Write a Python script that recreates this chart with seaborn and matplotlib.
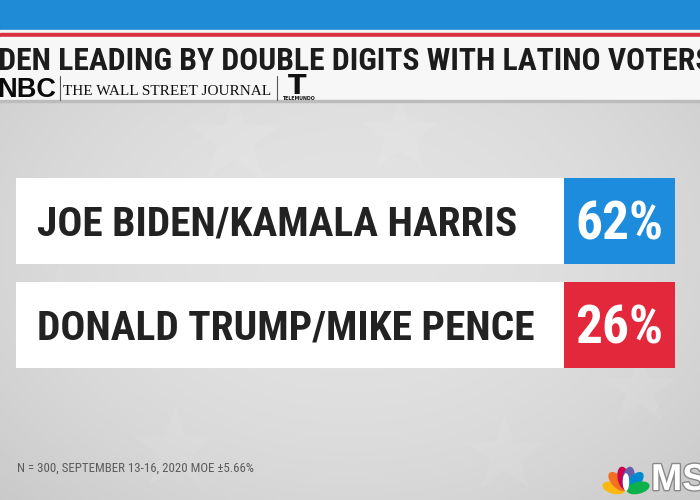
import os
import numpy as np
import pandas as pd
import matplotlib
matplotlib.use("Agg")
import matplotlib.pyplot as plt
import seaborn as sns
from matplotlib import font_manager
from matplotlib.font_manager import FontProperties
from matplotlib.textpath import TextPath
from matplotlib.patches import Rectangle, Ellipse
import matplotlib.patheffects as pe

# ---------------- data ----------------
candidates = ["JOE BIDEN/KAMALA HARRIS", "DONALD TRUMP/MIKE PENCE"]
shares = [62, 26]
box_colors = ["#1e8cdc", "#e3283b"]
title = "BIDEN LEADING BY DOUBLE DIGITS WITH LATINO VOTERS"
title_visible = "DEN LEADING BY DOUBLE DIGITS WITH LATINO VOTERS"
footnote = "N = 300, SEPTEMBER 13-16, 2020 MOE \u00b15.66%"

# ---------------- fonts ----------------
sns.set_theme(style="white")
plt.rcParams["font.family"] = ["DejaVu Sans"]

_files = [f.fname for f in font_manager.fontManager.ttflist]


def pick(patterns, fallback_weight):
    for pat in patterns:
        for fn in _files:
            if pat in os.path.basename(fn).lower():
                return FontProperties(fname=fn)
    return FontProperties(family="DejaVu Sans", weight=fallback_weight)


BOLD = pick(["notosans-extracondensedbold.", "liberationsansnarrow-bold.",
             "robotocondensed-bold.", "notosans-condensedbold.",
             "opensans-condensedbold.", "opensans_condensed-bold.",
             "dejavusanscondensed-bold."], "bold")
REG = pick(["notosans-extracondensedmedium.", "notosans-extracondensed.",
            "liberationsansnarrow-regular.", "robotocondensed-regular.",
            "notosans-condensedmedium.", "notosans-condensed.",
            "dejavusanscondensed."], "normal")

PX = 100 / 72.0


def fit_size(text, prop, target_w, target_cap):
    p = prop.copy()
    p.set_size(10)
    w = TextPath((0, 0), text, prop=p).get_extents().width * PX
    c = TextPath((0, 0), "H", prop=p).get_extents().height * PX
    return min(10 * target_w / w, 10 * target_cap / c)


def cap_px(prop, size):
    p = prop.copy()
    p.set_size(size)
    return TextPath((0, 0), "H", prop=p).get_extents().height * PX


def with_size(prop, size):
    p = prop.copy()
    p.set_size(size)
    return p


W, H = 700, 500
fig = plt.figure(figsize=(7, 5), dpi=100)

# ---------------- background layer (pixel coordinates) ----------------
bg = fig.add_axes([0, 0, 1, 1], zorder=0)
yy, xx = np.mgrid[0:H, 0:W]
r = np.sqrt(((xx - 350) / 450) ** 2 + ((yy - 250) / 330) ** 2)
val = np.clip(0.89 - 0.085 * r ** 2, 0, 1)
bg.imshow(np.dstack([val, val, val]), extent=(0, W, H, 0), aspect="auto", zorder=0)

bg.scatter([235, 400, 60, 175, 505, 640], [140, 135, 300, 450, 455, 390],
           marker="*", s=[5000, 3500, 3000, 4000, 3500, 3000], color="white",
           alpha=0.07, linewidths=0, zorder=1)

# header bands
bg.add_patch(Rectangle((0, 0), W, 29.5, color="#1f8ad6", zorder=2))
bg.add_patch(Rectangle((0, 29.5), W, 3, color="#f4f4f4", zorder=2))
bg.add_patch(Rectangle((0, 32.5), W, 4.8, color="#d9313f", zorder=2))
bg.add_patch(Rectangle((0, 37.3), W, 63, color="#f7f7f7", zorder=2))
bg.add_patch(Rectangle((0, 100), W, 1.5, color="#bcbcbc", zorder=2))

t_size = fit_size(title_visible, BOLD, 712, 28)
bg.text(712, 70, title, ha="right", va="baseline", fontproperties=with_size(BOLD, t_size),
        color="#1c1c1c", zorder=3)

bg.text(-3, 97, "NBC", ha="left", va="baseline", fontsize=19.5,
        fontweight="bold", family=["Liberation Sans", "DejaVu Sans"], color="#0a0a0a", zorder=3)
bg.plot([60, 60], [76, 100], color="#555555", lw=0.8, zorder=3)
bg.text(63, 95, "THE WALL STREET JOURNAL", ha="left", va="baseline", fontsize=11,
        family=["Liberation Serif", "DejaVu Serif"], color="#111111", zorder=3)
bg.plot([277, 277], [76, 100], color="#555555", lw=0.8, zorder=3)
bg.text(297, 93.5, "T", ha="center", va="baseline", fontsize=19.5, fontweight="heavy",
        family=["DejaVu Sans"], color="#111111", zorder=3)
bg.text(298, 100, "TELEMUNDO", ha="center", va="baseline", fontsize=3.4,
        fontweight="bold", family=["DejaVu Sans"], color="#111111", zorder=3)

# footnote
f_size = fit_size(footnote, REG, 236, 11)
bg.text(17, 472, footnote, ha="left", va="baseline",
        fontproperties=with_size(REG, f_size), color="#5b5b5b", zorder=3)

# MSNBC logo
base_x, base_y = 626, 491
feather_cols = ["#fcb711", "#f37021", "#cc004c", "#6460aa", "#0089d0", "#0db14b"]
angles = [166, 133, 101, 79, 47, 14]
for ang, col in zip(angles, feather_cols):
    t = np.deg2rad(ang)
    cx, cy = base_x + 12.5 * np.cos(t), base_y - 13 * np.sin(t)
    bg.add_patch(Ellipse((cx, cy), 22, 10.5, angle=-ang, color=col, zorder=3))
bg.add_patch(Ellipse((base_x, base_y - 9), 5, 16, color="white", zorder=4))
bg.text(651, 490, "MS", ha="left", va="baseline", fontsize=27, fontweight="bold",
        family=["Liberation Sans", "DejaVu Sans"], color="white", zorder=4,
        path_effects=[pe.withStroke(linewidth=2, foreground="#8a8a8a")])

bg.set_xlim(0, W)
bg.set_ylim(H, 0)
bg.axis("off")

# ---------------- chart ----------------
ROW_PX = 104.0                      # distance between row centres (px)
AX_TOP, AX_BOT, AX_L, AX_R = 178, 368, 16, 675
BAR_W = 86 / ROW_PX
LABEL_FRAC = (564 - AX_L) / (AX_R - AX_L)
ax = fig.add_axes([AX_L / W, 1 - AX_BOT / H, (AX_R - AX_L) / W, (AX_BOT - AX_TOP) / H],
                  zorder=2)
ax.patch.set_alpha(0)

df = pd.DataFrame({"candidate": candidates, "share": shares})
df["panel"] = 1.0
df["label_panel"] = LABEL_FRAC

sns.barplot(data=df, y="candidate", x="panel", hue="candidate", palette=box_colors,
            width=BAR_W, orient="h", errorbar=None, legend=False, saturation=1,
            linewidth=0, ax=ax)
sns.barplot(data=df, y="candidate", x="label_panel", color="white",
            width=BAR_W, orient="h", errorbar=None, saturation=1, linewidth=0, ax=ax)

pad = ((AX_BOT - AX_TOP) / ROW_PX - (len(candidates) - 1)) / 2
ax.set_xlim(0, 1)
ax.set_ylim(len(candidates) - 1 + pad, -pad)
ax.axis("off")

LABEL_X = (37 - AX_L) / (AX_R - AX_L)
VALUE_X = ((564 + 675) / 2 - AX_L) / (AX_R - AX_L)
l_size = min(fit_size(c, BOLD, 494, 35) for c in candidates)
v_size = min(fit_size(f"{s}%", BOLD, 84, 47) for s in shares)
l_cap = cap_px(BOLD, l_size)
v_cap = cap_px(BOLD, v_size)
for i, (c, s) in enumerate(zip(candidates, shares)):
    ax.text(LABEL_X, i + (l_cap / 2) / ROW_PX, c, ha="left", va="baseline",
            fontproperties=with_size(BOLD, l_size), color="#222222")
    ax.text(VALUE_X, i + (v_cap / 2) / ROW_PX, f"{s}%", ha="center", va="baseline",
            fontproperties=with_size(BOLD, v_size), color="white")

fig.savefig("out.png", dpi=100)
